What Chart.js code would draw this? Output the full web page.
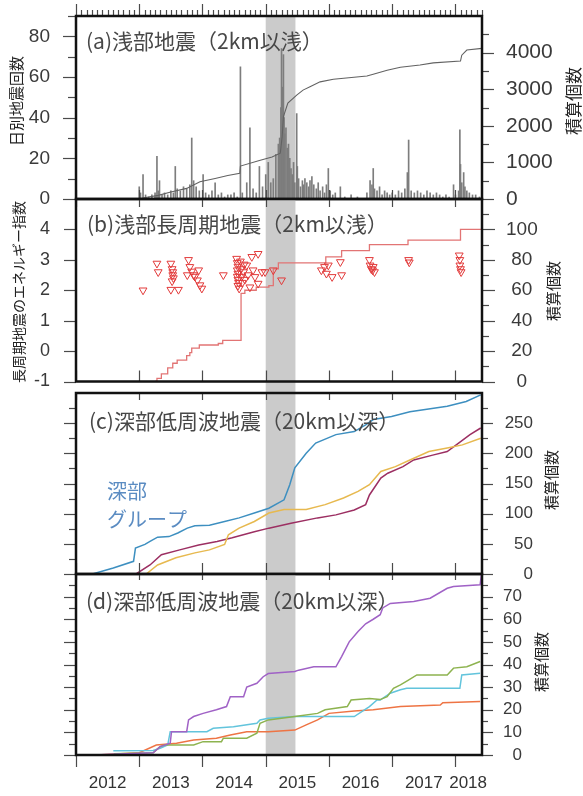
<!DOCTYPE html>
<html>
<head>
<meta charset="utf-8">
<script src="https://cdn.jsdelivr.net/npm/chart.js@4.4.0/dist/chart.umd.min.js"></script>
<style>
    body { margin: 0; background: #fff; }
    #wrap { position: relative; width: 583px; height: 796px; overflow: hidden; }
    canvas { position: absolute; left: 0; }
</style>
</head>
<body>
<div id="wrap">
    <canvas id="chartA" width="583" height="215" style="top:0px"></canvas>
    <canvas id="chartB" width="583" height="215" style="top:183px"></canvas>
    <canvas id="chartC" width="583" height="213" style="top:377px"></canvas>
    <canvas id="chartD" width="583" height="238" style="top:558px"></canvas>
</div>
<script>
// Axe des temps (années décimales)
const X_MIN = 2012.0, X_MAX = 2018.42;
const bandYears = [2015.0, 2015.47];
const yearTicks = [2012, 2013, 2014, 2015, 2016, 2017, 2018];
const xLabelPos = [2012.5, 2013.5, 2014.5, 2015.5, 2016.5, 2017.5, 2018.2];
const xLabels = ["2012", "2013", "2014", "2015", "2016", "2017", "2018"];

// (a) séismes superficiels : nombre journalier + cumul
const aBarYears = [2013.00, 2013.02, 2013.06, 2013.10, 2013.15, 2013.20, 2013.25, 2013.28, 2013.30, 2013.32,
    2013.36, 2013.40, 2013.45, 2013.50, 2013.54, 2013.57, 2013.60, 2013.65, 2013.70, 2013.75,
    2013.80, 2013.83, 2013.86, 2013.90, 2013.95, 2014.01, 2014.05, 2014.10, 2014.15, 2014.20,
    2014.25, 2014.30, 2014.35, 2014.40, 2014.45, 2014.50, 2014.55, 2014.60, 2014.63, 2014.70,
    2014.75, 2014.80, 2014.85, 2014.90, 2014.95, 2015.00, 2015.04, 2015.08, 2015.12, 2015.16,
    2015.20, 2015.22, 2015.24, 2015.25, 2015.27, 2015.28, 2015.29, 2015.30, 2015.32, 2015.34,
    2015.36, 2015.38, 2015.40, 2015.42, 2015.44, 2015.46, 2015.49, 2015.50, 2015.52, 2015.55,
    2015.58, 2015.60, 2015.62, 2015.65, 2015.68, 2015.70, 2015.73, 2015.76, 2015.80, 2015.83,
    2015.86, 2015.90, 2015.93, 2015.96, 2015.99, 2016.02, 2016.06, 2016.10, 2016.18, 2016.25,
    2016.35, 2016.45, 2016.60, 2016.65, 2016.68, 2016.70, 2016.72, 2016.76, 2016.80, 2016.84,
    2016.88, 2016.92, 2016.96, 2017.00, 2017.05, 2017.10, 2017.15, 2017.20, 2017.24, 2017.26,
    2017.30, 2017.35, 2017.40, 2017.45, 2017.50, 2017.55, 2017.60, 2017.65, 2017.70, 2017.75,
    2017.80, 2017.85, 2017.90, 2017.97, 2018.00, 2018.05, 2018.07, 2018.08, 2018.10, 2018.13,
    2018.15, 2018.18, 2018.22, 2018.27, 2018.32, 2018.38];
const aBarCounts = [6, 3, 12, 2, 1, 2, 3, 21, 4, 9,
    2, 3, 2, 4, 3, 16, 5, 4, 6, 5,
    7, 30, 9, 6, 4, 12, 3, 2, 4, 8,
    2, 3, 1, 2, 2, 3, 1, 65, 3, 8,
    35, 5, 3, 16, 6, 12, 18, 8, 10, 22,
    27, 30, 45, 74, 55, 71, 40, 32, 35, 25,
    27, 20, 15, 12, 18, 8, 42, 16, 10, 6,
    9, 7, 10, 8, 6, 9, 11, 7, 5, 8,
    4, 6, 3, 7, 15, 4, 2, 3, 6, 1,
    2, 1, 3, 9, 7, 15, 5, 4, 6, 2,
    4, 3, 2, 3, 2, 4, 3, 5, 13, 29,
    4, 3, 4, 3, 2, 4, 3, 2, 3, 2,
    1, 2, 1, 7, 2, 4, 34, 17, 8, 13,
    6, 4, 3, 2, 2, 1];
const aCumYears = [2012.0, 2013.0, 2013.1, 2013.3, 2013.5, 2013.75, 2013.96, 2014.2, 2014.4, 2014.59,
    2014.6, 2014.9, 2015.1, 2015.23, 2015.26, 2015.28, 2015.35, 2015.49, 2015.59, 2015.70,
    2015.86, 2016.07, 2016.6, 2016.7, 2016.92, 2017.13, 2017.44, 2017.65, 2018.08, 2018.10,
    2018.18, 2018.42];
const aCumCounts = [0, 0, 40, 100, 190, 290, 470, 560, 640, 700,
    900, 1050, 1150, 1250, 1700, 2250, 2620, 2840, 2975, 3066,
    3200, 3270, 3360, 3410, 3520, 3600, 3660, 3720, 3770, 3930,
    4070, 4115];
const aLeftLabels = [0, 20, 40, 60, 80];
const aLeftMinor = [10, 30, 50, 70, 90];
const aRightLabels = [0, 1000, 2000, 3000, 4000];
const aRightMinor = [500, 1500, 2500, 3500, 4500];

// (b) séismes longue période : indice d'énergie + cumul
const bMarkYears = [2013.06, 2013.28, 2013.30, 2013.50, 2013.52, 2013.53, 2013.53, 2013.54, 2013.52, 2013.50,
    2013.62, 2013.78, 2013.80, 2013.76, 2013.83, 2013.86, 2013.88, 2013.92, 2013.94, 2013.96,
    2013.99, 2014.33, 2014.54, 2014.55, 2014.56, 2014.55, 2014.56, 2014.55, 2014.56, 2014.57,
    2014.56, 2014.58, 2014.60, 2014.61, 2014.62, 2014.63, 2014.65, 2014.66, 2014.67, 2014.70,
    2014.72, 2014.75, 2014.78, 2014.80, 2014.83, 2014.88, 2014.88, 2014.94, 2014.99, 2015.12,
    2015.25, 2015.88, 2015.93, 2015.96, 2015.99, 2016.05, 2016.18, 2016.20, 2016.64, 2016.65,
    2016.67, 2016.69, 2016.70, 2016.72, 2017.26, 2017.27, 2018.06, 2018.07, 2018.07, 2018.08,
    2018.09];
const bMarkEnergy = [2.00, 2.88, 2.60, 2.88, 2.70, 2.60, 2.50, 2.40, 2.30, 2.02,
    2.02, 3.00, 2.77, 2.50, 2.62, 2.50, 2.45, 2.33, 2.66, 2.17,
    2.06, 2.50, 3.04, 2.90, 2.78, 2.66, 2.55, 2.45, 2.35, 2.25,
    2.15, 2.06, 2.95, 2.70, 2.45, 2.25, 2.60, 2.85, 2.35, 2.82,
    2.50, 2.10, 3.10, 2.66, 2.44, 3.20, 2.22, 2.60, 2.60, 2.66,
    2.33, 2.66, 2.77, 2.55, 2.82, 2.44, 2.93, 2.50, 3.00, 2.82,
    2.70, 2.66, 2.77, 2.60, 3.00, 2.92, 3.15, 3.00, 2.82, 2.70,
    2.60];
const bCumYears = [2013.25, 2013.28, 2013.35, 2013.45, 2013.53, 2013.60, 2013.75, 2013.80, 2013.83, 2013.95,
    2014.25, 2014.32, 2014.61, 2014.67, 2014.85, 2015.05, 2015.12, 2015.20, 2015.95, 2016.20,
    2016.64, 2017.25, 2018.08, 2018.42];
const bCumCounts = [0, 2, 5, 9, 12, 14, 17, 19, 22, 24,
    25, 27, 58, 60, 62, 63, 74, 78, 82, 86,
    90, 93, 100, 100];
const bLeftLabels = [-1, 0, 1, 2, 3, 4];
const bRightLabels = [0, 20, 40, 60, 80, 100];
const bRightMinor = [10, 30, 50, 70, 90, 110];

// (c) séismes basse fréquence profonds
const cBlueYears = [2012.26, 2012.59, 2012.91, 2012.94, 2013.09, 2013.17, 2013.29, 2013.47, 2013.61, 2013.76,
    2013.88, 2014.11, 2014.35, 2014.58, 2014.82, 2015.05, 2015.29, 2015.38, 2015.46, 2015.64,
    2015.79, 2016.11, 2016.40, 2016.58, 2016.70, 2016.99, 2017.28, 2017.87, 2018.17, 2018.40];
const cBlueCounts = [0, 10, 21, 43, 49, 54, 61, 62, 68, 76,
    80, 81, 87, 93, 101, 109, 123, 148, 176, 200,
    217, 231, 236, 247, 256, 261, 269, 278, 286, 297];
const cRedYears = [2012.95, 2013.17, 2013.35, 2013.64, 2013.94, 2014.23, 2014.47, 2014.82, 2015.05, 2015.40,
    2015.82, 2016.11, 2016.40, 2016.58, 2016.64, 2016.82, 2016.93, 2017.17, 2017.34, 2017.64,
    2017.87, 2018.05, 2018.23, 2018.40];
const cRedCounts = [0, 15, 32, 40, 48, 54, 60, 70, 76, 84,
    93, 98, 106, 115, 131, 159, 167, 178, 189, 197,
    203, 217, 231, 242];
const cYellowYears = [2013.11, 2013.29, 2013.58, 2013.88, 2014.11, 2014.35, 2014.41, 2014.58, 2014.82, 2015.05,
    2015.29, 2015.64, 2015.94, 2016.23, 2016.46, 2016.64, 2016.82, 2017.05, 2017.28, 2017.58,
    2017.87, 2018.11, 2018.40];
const cYellowCounts = [0, 15, 27, 35, 40, 49, 65, 76, 87, 101,
    107, 107, 115, 126, 137, 148, 170, 178, 189, 203,
    209, 214, 225];
const cLabels = [0, 50, 100, 150, 200, 250];
const cMinor = [25, 75, 125, 175, 225, 275];

// (d) séismes basse fréquence profonds (autres groupes)
const dPurpleYears = [2012.27, 2013.22, 2013.33, 2013.49, 2013.51, 2013.75, 2013.78, 2013.86, 2014.01, 2014.22,
    2014.38, 2014.44, 2014.65, 2014.70, 2014.86, 2014.96, 2015.04, 2015.46, 2015.52, 2015.76,
    2016.11, 2016.20, 2016.32, 2016.46, 2016.58, 2016.70, 2016.81, 2016.85, 2016.97, 2017.34,
    2017.60, 2017.87, 2017.97, 2018.39, 2018.41];
const dPurpleCounts = [0, 1, 3.7, 5.2, 10.3, 10.3, 15.5, 17, 18.4, 20,
    21.4, 25.8, 25.8, 30, 31.7, 34.6, 36, 36.9, 37.5, 39,
    39, 43.5, 50, 54.6, 58, 60, 62, 65, 67, 67.8,
    69.3, 73.7, 74.5, 75.2, 79.5];
const dGreenYears = [2012.6, 2013.22, 2013.33, 2013.4, 2013.86, 2014.01, 2014.3, 2014.33, 2014.7, 2014.86,
    2014.91, 2015.04, 2015.46, 2015.82, 2015.94, 2016.29, 2016.35, 2016.64, 2016.81, 2016.92,
    2017.02, 2017.13, 2017.25, 2017.39, 2017.87, 2017.97, 2018.18, 2018.39];
const dGreenCounts = [0.5, 1, 3.7, 4.4, 4.4, 5.9, 5.9, 7.4, 7.4, 9.6,
    14, 15.5, 17, 18.4, 20, 21.4, 24.3, 25, 24.5, 25.8,
    29.5, 31, 33, 35.4, 35.4, 38.4, 39, 41.3];
const dCyanYears = [2012.59, 2013.22, 2013.33, 2013.45, 2013.49, 2014.07, 2014.17, 2014.49, 2014.86, 2014.91,
    2015.04, 2015.46, 2016.40, 2016.64, 2016.76, 2016.81, 2016.97, 2017.13, 2017.23, 2018.07,
    2018.10, 2018.39];
const dCyanCounts = [1.9, 2, 3, 4.4, 10.3, 10.3, 11.8, 12.5, 14, 15.5,
    16.2, 17, 17, 21.4, 24.3, 24.3, 27.3, 28.8, 29.5, 29.5,
    35.4, 36.1];
const dOrangeYears = [2012.33, 2013.0, 2013.27, 2013.59, 2013.86, 2014.22, 2014.44, 2014.70, 2015.04, 2015.46,
    2015.64, 2015.82, 2016.0, 2016.4, 2016.7, 2017.13, 2017.76, 2017.80, 2018.39];
const dOrangeCounts = [0, 1, 4.4, 5.2, 6.6, 7.4, 8.8, 10.3, 10.3, 11,
    13.3, 15.5, 18.4, 19.5, 20, 21.4, 22.1, 23.1, 23.6];
const dLabels = [0, 10, 20, 30, 40, 50, 60, 70];
const dMinor = [5, 15, 25, 35, 45, 55, 65, 75];

const FONT_NUM = '"Liberation Sans", Arial, sans-serif';
const FONT_JP = '"Noto Sans CJK JP", sans-serif';

function points(xs, ys) {
    return xs.map((x, i) => ({ x: x, y: ys[i] }));
}

// Décor du panneau : bande grise, graduations, cadre, textes
const panelDecor = {
    id: "panelDecor",
    beforeDatasetsDraw(chart, args, o) {
        const { ctx, chartArea: a, scales: { x } } = chart;
        const x0 = x.getPixelForValue(bandYears[0]);
        const x1 = x.getPixelForValue(bandYears[1]);
        ctx.save();
        ctx.fillStyle = "#cbcbcb";
        ctx.fillRect(x0, a.top, x1 - x0, a.bottom - a.top + (o.bandExtra || 0));
        ctx.restore();
    },
    afterDraw(chart, args, o) {
        const { ctx, chartArea: a, scales } = chart;
        const x = scales.x, yL = scales.yL, yR = scales.yR;
        const seg = (x1, y1, x2, y2) => {
            ctx.beginPath(); ctx.moveTo(x1, y1); ctx.lineTo(x2, y2); ctx.stroke();
        };
        const tickY = (scale, vals, edge, len, dir) => {
            vals.forEach(v => {
                const y = Math.round(scale.getPixelForValue(v)) + 0.5;
                seg(edge, y, edge + dir * len, y);
            });
        };
        ctx.save();
        ctx.strokeStyle = "#4a4a4a";
        ctx.lineWidth = 1.2;
        tickY(yL, o.leftMaj, a.left, o.lenL[0], -1);
        tickY(yL, o.leftMin, a.left, o.lenL[1], -1);
        tickY(yR, o.rightMaj, a.right, o.lenR[0], 1);
        tickY(yR, o.rightMin, a.right, o.lenR[1], 1);

        yearTicks.forEach(v => {
            const px = Math.round(x.getPixelForValue(v)) + 0.5;
            if (o.topIn) seg(px, a.top, px, a.top + o.topIn);
            if (o.botIn) seg(px, a.bottom, px, a.bottom - o.botIn);
            if (o.botOut) seg(px, a.bottom, px, a.bottom + o.botOut);
        });
        // graduations mensuelles au-dessus du panneau (a)
        if (o.months) {
            for (let m = 0; 2012 + m / 12 <= X_MAX; m++) {
                const px = Math.round(x.getPixelForValue(2012 + m / 12)) + 0.5;
                seg(px, a.top, px, a.top - (m % 12 === 0 ? 12 : 6));
            }
        }

        ctx.strokeStyle = "#111";
        ctx.lineWidth = 2.5;
        ctx.strokeRect(a.left, a.top, a.right - a.left, a.bottom - a.top);

        (o.texts || []).forEach(t => {
            ctx.save();
            ctx.fillStyle = t.color || "#222";
            ctx.font = t.size + "px " + FONT_JP;
            ctx.textBaseline = "middle";
            ctx.translate(t.x, t.y - o.top);
            if (t.rot) {
                ctx.rotate(-Math.PI / 2);
                ctx.textAlign = "center";
            } else {
                ctx.textAlign = "left";
            }
            ctx.fillText(t.text, 0, 0);
            ctx.restore();
        });
        ctx.restore();
    }
};

function xScale(show) {
    return {
        type: "linear", min: X_MIN, max: X_MAX, offset: false, display: show,
        grid: { display: false, drawTicks: false }, border: { display: false },
        afterBuildTicks: s => { s.ticks = xLabelPos.map(v => ({ value: v })); },
        afterFit: s => {
            if (show) s.height = 36;
            s.paddingLeft = 0; s.paddingRight = 0;
        },
        ticks: {
            autoSkip: false, maxRotation: 0, padding: 18, color: "#333",
            font: { family: FONT_NUM, size: 17 },
            callback: (v, i) => xLabels[i]
        }
    };
}

function yScale(pos, min, max, labels, size, pad, align, show, width) {
    return {
        type: "linear", position: pos, min: min, max: max,
        grid: { display: false, drawTicks: false }, border: { display: false },
        afterBuildTicks: s => { s.ticks = labels.map(v => ({ value: v })); },
        afterFit: s => {
            s.width = width;
            s.paddingTop = 0; s.paddingBottom = 0;  // pas de marge automatique
        },
        ticks: {
            display: show, padding: pad, crossAlign: align, color: "#3a3a3a",
            font: { family: FONT_NUM, size: size },
            callback: v => String(v)
        }
    };
}

function baseOptions(padBottom, padRight, decor, scales) {
    return {
        responsive: false,
        animation: false,
        devicePixelRatio: 1,
        layout: { padding: { top: 16, bottom: padBottom, left: 0, right: padRight } },
        plugins: { legend: { display: false }, tooltip: { enabled: false }, panelDecor: decor },
        scales: scales
    };
}

function lineSet(xs, ys, color, axis) {
    return {
        type: "line", data: points(xs, ys), borderColor: color, borderWidth: 1.5,
        pointRadius: 0, tension: 0, fill: false, yAxisID: axis
    };
}

// (a)
new Chart(document.getElementById("chartA"), {
    type: "bar",
    data: {
        datasets: [
            Object.assign(lineSet(aCumYears, aCumCounts, "#626262", "yR"), { borderWidth: 1.1 }),
            {
                type: "bar", data: points(aBarYears, aBarCounts), backgroundColor: "#7d7d7d",
                barThickness: 1, yAxisID: "yL"
            }
        ]
    },
    options: baseOptions(16, 0, {
        top: 0, months: true, botIn: 9,
        leftMaj: aLeftLabels, leftMin: aLeftMinor, lenL: [13, 8],
        rightMaj: aRightLabels, rightMin: aRightMinor, lenR: [12, 7],
        texts: [
            { text: "(a)浅部地震（2km以浅）", x: 86, y: 41, size: 21, color: "#474747" },
            { text: "日別地震回数", x: 16, y: 101, size: 15, rot: true },
            { text: "積算個数", x: 574, y: 101, size: 17, rot: true }
        ]
    }, {
        x: xScale(false),
        yL: yScale("left", 0, 90, aLeftLabels, 19, 26, "near", true, 76),
        yR: yScale("right", 0, 5000, aRightLabels, 21, 24, "near", true, 101)
    }),
    plugins: [panelDecor]
});

// (b)
new Chart(document.getElementById("chartB"), {
    type: "line",
    data: {
        datasets: [
            {
                data: points(bMarkYears, bMarkEnergy), showLine: false, yAxisID: "yL",
                pointStyle: "triangle", pointRotation: 180, pointRadius: 4.5,
                pointBorderColor: "#e23a3a", pointBackgroundColor: "rgba(255,255,255,0)", pointBorderWidth: 1
            },
            Object.assign(lineSet(bCumYears, bCumCounts, "#e27474", "yR"), { stepped: true, borderWidth: 1.3 })
        ]
    },
    options: baseOptions(16.5, 0, {
        top: 183, topIn: 8, botIn: 11, bandExtra: 11.5,
        leftMaj: bLeftLabels, leftMin: [], lenL: [12, 7],
        rightMaj: bRightLabels, rightMin: bRightMinor, lenR: [13, 7],
        texts: [
            { text: "(b)浅部長周期地震（2km以浅）", x: 87, y: 224, size: 21, color: "#474747" },
            { text: "長周期地震のエネルギー指数", x: 19, y: 292, size: 14, rot: true },
            { text: "積算個数", x: 553, y: 291, size: 15, rot: true }
        ]
    }, {
        x: xScale(false),
        yL: yScale("left", -1, 5, bLeftLabels, 18, 26, "near", true, 76),
        yR: yScale("right", 0, 120, bRightLabels, 19, 24, "center", true, 101)
    }),
    plugins: [panelDecor]
});

// (c)
new Chart(document.getElementById("chartC"), {
    type: "line",
    data: {
        datasets: [
            lineSet(cBlueYears, cBlueCounts, "#3d8fc0", "yR"),
            lineSet(cYellowYears, cYellowCounts, "#e7b94f", "yR"),
            lineSet(cRedYears, cRedCounts, "#9c2f62", "yR")
        ]
    },
    options: baseOptions(16, 50, {
        top: 377, topIn: 7, botIn: 11,
        leftMaj: cLabels, leftMin: cMinor, lenL: [12, 7],
        rightMaj: cLabels, rightMin: cMinor, lenR: [11, 6],
        texts: [
            { text: "(c)深部低周波地震（20km以深）", x: 89, y: 421, size: 21, color: "#474747" },
            { text: "深部", x: 107, y: 491, size: 20, color: "#5b8cc2" },
            { text: "グループ", x: 107, y: 519, size: 20, color: "#5b8cc2" },
            { text: "積算個数", x: 551, y: 480, size: 15, rot: true }
        ]
    }, {
        x: xScale(false),
        yL: yScale("left", 0, 300, cLabels, 17, 26, "near", false, 76),
        yR: yScale("right", 0, 300, cLabels, 17, 25, "far", true, 51)
    }),
    plugins: [panelDecor]
});

// (d)
new Chart(document.getElementById("chartD"), {
    type: "line",
    data: {
        datasets: [
            lineSet(dPurpleYears, dPurpleCounts, "#a062c6", "yR"),
            lineSet(dGreenYears, dGreenCounts, "#8db34f", "yR"),
            lineSet(dCyanYears, dCyanCounts, "#62c4dc", "yR"),
            lineSet(dOrangeYears, dOrangeCounts, "#ee7444", "yR")
        ]
    },
    options: baseOptions(5, 61, {
        top: 558, topIn: 6, botOut: 12,
        leftMaj: dLabels, leftMin: dMinor, lenL: [12, 7],
        rightMaj: dLabels, rightMin: dMinor, lenR: [11, 6],
        texts: [
            { text: "(d)深部低周波地震（20km以深）", x: 86, y: 601, size: 21, color: "#474747" },
            { text: "積算個数", x: 541, y: 662, size: 15, rot: true }
        ]
    }, {
        x: xScale(true),
        yL: yScale("left", 0, 80, dLabels, 17, 26, "near", false, 76),
        yR: yScale("right", 0, 80, dLabels, 17, 22, "far", true, 40)
    }),
    plugins: [panelDecor]
});
</script>
</body>
</html>
